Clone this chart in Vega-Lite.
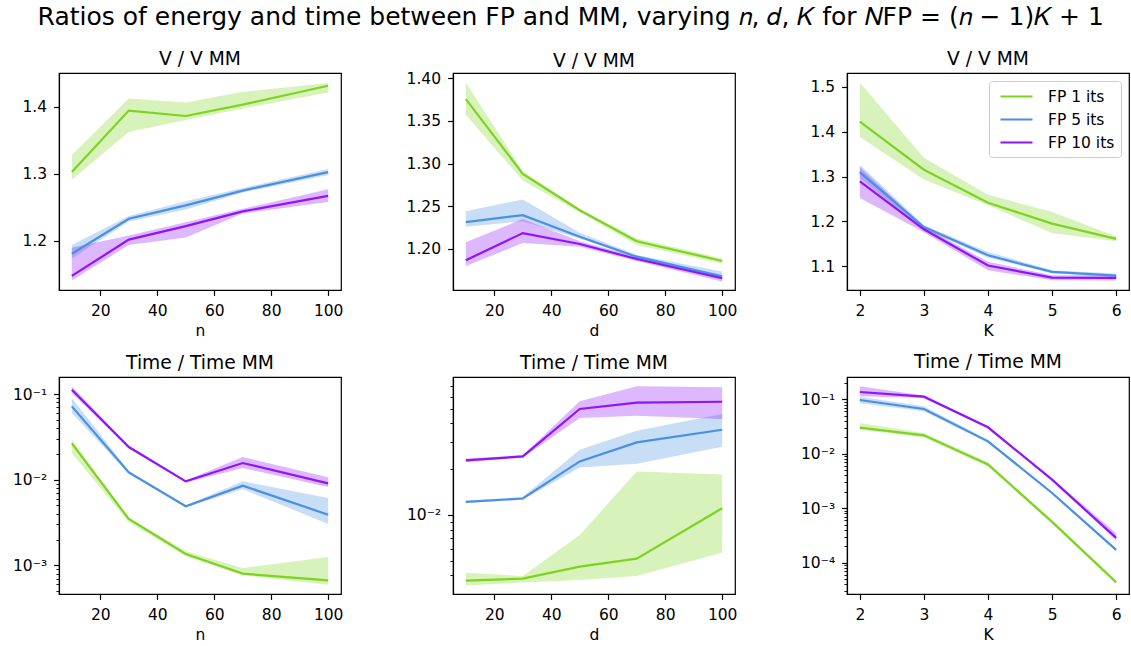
{
  "$schema": "https://vega.github.io/schema/vega-lite/v6.json",
  "padding": {"left": 11, "top": 4, "right": 0, "bottom": 0},
  "title": {"text": "Ratios of energy and time between FP and MM, varying 𝑛, 𝑑, 𝐾 for 𝑁FP = (𝑛 − 1)𝐾 + 1", "fontSize": 25, "fontWeight": "normal", "anchor": "middle", "offset": 20},
  "config": {
    "font": "DejaVu Sans",
    "view": {"stroke": "black", "strokeWidth": 1.2},
    "title": {"fontSize": 18.7, "fontWeight": "normal", "color": "black", "offset": 4},
    "axis": {"domainColor": "black", "domainWidth": 1.2, "tickColor": "black", "tickWidth": 1.2, "tickSize": 5.4, "labelFontSize": 15.5, "labelColor": "black", "titleFontSize": 15.5, "titleFontWeight": "normal", "titleColor": "black", "grid": false, "labelOverlap": false, "labelFlush": false},
    "axisX": {"labelPadding": 8.5, "titlePadding": 4.5},
    "axisY": {"labelPadding": 7},
    "legend": {"orient": "top-right", "offset": 8, "padding": 6, "strokeColor": "#cccccc", "fillColor": "white", "cornerRadius": 3, "symbolType": "M-2,0L2,0", "symbolSize": 256, "symbolOffset": 12, "symbolStrokeWidth": 2.2, "labelFontSize": 15.5, "labelColor": "black", "labelOffset": 22, "rowPadding": 5}
  },
  "data": {"values": [
    {"p":"Vn","s":"FP 1 its","x":10,"m":1.3025,"lo":1.291,"hi":1.328},
    {"p":"Vn","s":"FP 1 its","x":30,"m":1.394,"lo":1.362,"hi":1.412},
    {"p":"Vn","s":"FP 1 its","x":50,"m":1.386,"lo":1.380,"hi":1.406},
    {"p":"Vn","s":"FP 1 its","x":70,"m":1.403,"lo":1.397,"hi":1.422},
    {"p":"Vn","s":"FP 1 its","x":100,"m":1.431,"lo":1.421,"hi":1.435},
    {"p":"Vn","s":"FP 5 its","x":10,"m":1.181,"lo":1.174,"hi":1.194},
    {"p":"Vn","s":"FP 5 its","x":30,"m":1.233,"lo":1.229,"hi":1.237},
    {"p":"Vn","s":"FP 5 its","x":50,"m":1.253,"lo":1.247,"hi":1.259},
    {"p":"Vn","s":"FP 5 its","x":70,"m":1.275,"lo":1.272,"hi":1.279},
    {"p":"Vn","s":"FP 5 its","x":100,"m":1.3025,"lo":1.298,"hi":1.307},
    {"p":"Vn","s":"FP 10 its","x":10,"m":1.148,"lo":1.141,"hi":1.190},
    {"p":"Vn","s":"FP 10 its","x":30,"m":1.202,"lo":1.194,"hi":1.208},
    {"p":"Vn","s":"FP 10 its","x":50,"m":1.222,"lo":1.205,"hi":1.228},
    {"p":"Vn","s":"FP 10 its","x":70,"m":1.244,"lo":1.241,"hi":1.248},
    {"p":"Vn","s":"FP 10 its","x":100,"m":1.267,"lo":1.258,"hi":1.277},
    {"p":"Vd","s":"FP 1 its","x":10,"m":1.3755,"lo":1.357,"hi":1.395},
    {"p":"Vd","s":"FP 1 its","x":30,"m":1.288,"lo":1.280,"hi":1.291},
    {"p":"Vd","s":"FP 1 its","x":50,"m":1.2454,"lo":1.243,"hi":1.247},
    {"p":"Vd","s":"FP 1 its","x":70,"m":1.209,"lo":1.2047,"hi":1.2124},
    {"p":"Vd","s":"FP 1 its","x":100,"m":1.186,"lo":1.183,"hi":1.189},
    {"p":"Vd","s":"FP 5 its","x":10,"m":1.2315,"lo":1.226,"hi":1.2443},
    {"p":"Vd","s":"FP 5 its","x":30,"m":1.2396,"lo":1.2326,"hi":1.258},
    {"p":"Vd","s":"FP 5 its","x":50,"m":1.2144,"lo":1.2124,"hi":1.219},
    {"p":"Vd","s":"FP 5 its","x":70,"m":1.191,"lo":1.189,"hi":1.193},
    {"p":"Vd","s":"FP 5 its","x":100,"m":1.168,"lo":1.165,"hi":1.1736},
    {"p":"Vd","s":"FP 10 its","x":10,"m":1.1868,"lo":1.180,"hi":1.2078},
    {"p":"Vd","s":"FP 10 its","x":30,"m":1.2186,"lo":1.207,"hi":1.235},
    {"p":"Vd","s":"FP 10 its","x":50,"m":1.2058,"lo":1.2027,"hi":1.209},
    {"p":"Vd","s":"FP 10 its","x":70,"m":1.1883,"lo":1.186,"hi":1.1907},
    {"p":"Vd","s":"FP 10 its","x":100,"m":1.1658,"lo":1.162,"hi":1.169},
    {"p":"VK","s":"FP 1 its","x":2,"m":1.4228,"lo":1.388,"hi":1.510},
    {"p":"VK","s":"FP 1 its","x":3,"m":1.3152,"lo":1.2937,"hi":1.342},
    {"p":"VK","s":"FP 1 its","x":4,"m":1.2417,"lo":1.2358,"hi":1.2596},
    {"p":"VK","s":"FP 1 its","x":5,"m":1.195,"lo":1.174,"hi":1.221},
    {"p":"VK","s":"FP 1 its","x":6,"m":1.161,"lo":1.1558,"hi":1.1668},
    {"p":"VK","s":"FP 5 its","x":2,"m":1.31,"lo":1.2967,"hi":1.3263},
    {"p":"VK","s":"FP 5 its","x":3,"m":1.1876,"lo":1.1824,"hi":1.1913},
    {"p":"VK","s":"FP 5 its","x":4,"m":1.1245,"lo":1.1193,"hi":1.132},
    {"p":"VK","s":"FP 5 its","x":5,"m":1.0874,"lo":1.0837,"hi":1.0911},
    {"p":"VK","s":"FP 5 its","x":6,"m":1.0792,"lo":1.0763,"hi":1.0837},
    {"p":"VK","s":"FP 10 its","x":2,"m":1.2892,"lo":1.2521,"hi":1.3212},
    {"p":"VK","s":"FP 10 its","x":3,"m":1.1824,"lo":1.1759,"hi":1.1876},
    {"p":"VK","s":"FP 10 its","x":4,"m":1.1015,"lo":1.091,"hi":1.1098},
    {"p":"VK","s":"FP 10 its","x":5,"m":1.0748,"lo":1.0689,"hi":1.08},
    {"p":"VK","s":"FP 10 its","x":6,"m":1.074,"lo":1.0682,"hi":1.08},
    {"p":"Tn","s":"FP 1 its","x":10,"m":0.02655,"lo":0.0205,"hi":0.0293},
    {"p":"Tn","s":"FP 1 its","x":30,"m":0.003475,"lo":0.00318,"hi":0.00363},
    {"p":"Tn","s":"FP 1 its","x":50,"m":0.001355,"lo":0.001273,"hi":0.001457},
    {"p":"Tn","s":"FP 1 its","x":70,"m":0.0008,"lo":0.000764,"hi":0.000931},
    {"p":"Tn","s":"FP 1 its","x":100,"m":0.000668,"lo":0.000595,"hi":0.00125},
    {"p":"Tn","s":"FP 5 its","x":10,"m":0.0718,"lo":0.06,"hi":0.0898},
    {"p":"Tn","s":"FP 5 its","x":30,"m":0.01218,"lo":0.0117,"hi":0.0127},
    {"p":"Tn","s":"FP 5 its","x":50,"m":0.00489,"lo":0.00475,"hi":0.0050},
    {"p":"Tn","s":"FP 5 its","x":70,"m":0.00851,"lo":0.00778,"hi":0.00956},
    {"p":"Tn","s":"FP 5 its","x":100,"m":0.0039,"lo":0.00304,"hi":0.0061},
    {"p":"Tn","s":"FP 10 its","x":10,"m":0.1124,"lo":0.1027,"hi":0.123},
    {"p":"Tn","s":"FP 10 its","x":30,"m":0.02406,"lo":0.0235,"hi":0.0247},
    {"p":"Tn","s":"FP 10 its","x":50,"m":0.00956,"lo":0.0093,"hi":0.0098},
    {"p":"Tn","s":"FP 10 its","x":70,"m":0.01565,"lo":0.01368,"hi":0.0184},
    {"p":"Tn","s":"FP 10 its","x":100,"m":0.00906,"lo":0.0082,"hi":0.01065},
    {"p":"Td","s":"FP 1 its","x":10,"m":0.0037,"lo":0.00343,"hi":0.00417},
    {"p":"Td","s":"FP 1 its","x":30,"m":0.00381,"lo":0.00359,"hi":0.00396},
    {"p":"Td","s":"FP 1 its","x":50,"m":0.00457,"lo":0.00373,"hi":0.00738},
    {"p":"Td","s":"FP 1 its","x":70,"m":0.00516,"lo":0.00396,"hi":0.0193},
    {"p":"Td","s":"FP 1 its","x":100,"m":0.01107,"lo":0.00565,"hi":0.01845},
    {"p":"Td","s":"FP 5 its","x":10,"m":0.01218,"lo":0.0120,"hi":0.0124},
    {"p":"Td","s":"FP 5 its","x":30,"m":0.01282,"lo":0.0126,"hi":0.0131},
    {"p":"Td","s":"FP 5 its","x":50,"m":0.02248,"lo":0.0205,"hi":0.0268},
    {"p":"Td","s":"FP 5 its","x":70,"m":0.030,"lo":0.0217,"hi":0.0357},
    {"p":"Td","s":"FP 5 its","x":100,"m":0.0363,"lo":0.0281,"hi":0.0461},
    {"p":"Td","s":"FP 10 its","x":10,"m":0.02283,"lo":0.0223,"hi":0.0235},
    {"p":"Td","s":"FP 10 its","x":30,"m":0.02425,"lo":0.0238,"hi":0.0247},
    {"p":"Td","s":"FP 10 its","x":50,"m":0.0497,"lo":0.0433,"hi":0.0559},
    {"p":"Td","s":"FP 10 its","x":70,"m":0.0547,"lo":0.0449,"hi":0.0701},
    {"p":"Td","s":"FP 10 its","x":100,"m":0.0555,"lo":0.0427,"hi":0.0691},
    {"p":"TK","s":"FP 1 its","x":2,"m":0.0302,"lo":0.0275,"hi":0.0367},
    {"p":"TK","s":"FP 1 its","x":3,"m":0.0218,"lo":0.0200,"hi":0.0240},
    {"p":"TK","s":"FP 1 its","x":4,"m":0.00633,"lo":0.0058,"hi":0.0070},
    {"p":"TK","s":"FP 1 its","x":5,"m":0.00056,"lo":0.00052,"hi":0.0006},
    {"p":"TK","s":"FP 1 its","x":6,"m":0.0000435,"lo":0.000040,"hi":0.000047},
    {"p":"TK","s":"FP 5 its","x":2,"m":0.0972,"lo":0.0845,"hi":0.1119},
    {"p":"TK","s":"FP 5 its","x":3,"m":0.0664,"lo":0.0602,"hi":0.0744},
    {"p":"TK","s":"FP 5 its","x":4,"m":0.01692,"lo":0.0160,"hi":0.0178},
    {"p":"TK","s":"FP 5 its","x":5,"m":0.0019,"lo":0.00182,"hi":0.00198},
    {"p":"TK","s":"FP 5 its","x":6,"m":0.000171,"lo":0.000163,"hi":0.000180},
    {"p":"TK","s":"FP 10 its","x":2,"m":0.1364,"lo":0.1135,"hi":0.173},
    {"p":"TK","s":"FP 10 its","x":3,"m":0.112,"lo":0.106,"hi":0.118},
    {"p":"TK","s":"FP 10 its","x":4,"m":0.0306,"lo":0.0294,"hi":0.0318},
    {"p":"TK","s":"FP 10 its","x":5,"m":0.00334,"lo":0.0032,"hi":0.0035},
    {"p":"TK","s":"FP 10 its","x":6,"m":0.000284,"lo":0.000257,"hi":0.00035}
  ]},
  "vconcat": [
    {
      "hconcat": [
        {
          "width": 282, "height": 217, "title": "V / V MM",
          "transform": [{"filter": "datum.p == 'Vn'"}],
          "encoding": {
            "x": {"field": "x", "type": "quantitative", "scale": {"domain": [5.5, 104.5], "nice": false, "zero": false}, "axis": {"values": [20, 40, 60, 80, 100], "title": "n"}},
            "y": {"field": "m", "type": "quantitative", "scale": {"domain": [1.127, 1.45], "nice": false, "zero": false}, "axis": {"values": [1.2, 1.3, 1.4], "format": ".1f", "title": null}}
          },
          "layer": [
            {"mark": {"type": "area", "opacity": 0.3}, "encoding": {"y": {"field": "lo", "type": "quantitative"}, "y2": {"field": "hi"}, "fill": {"field": "s", "type": "nominal", "scale": {"domain": ["FP 10 its", "FP 5 its", "FP 1 its"], "range": ["#9013FE", "#4A90E2", "#7ED321"]}, "legend": null}}},
            {"mark": {"type": "line", "strokeWidth": 2.2}, "encoding": {"color": {"field": "s", "type": "nominal", "scale": {"domain": ["FP 1 its", "FP 5 its", "FP 10 its"], "range": ["#7ED321", "#4A90E2", "#9013FE"]}, "legend": null}}}
          ]
        },
        {
          "width": 282, "height": 217, "title": {"text": "V / V MM", "offset": 0},
          "transform": [{"filter": "datum.p == 'Vd'"}],
          "encoding": {
            "x": {"field": "x", "type": "quantitative", "scale": {"domain": [5.5, 104.5], "nice": false, "zero": false}, "axis": {"values": [20, 40, 60, 80, 100], "title": "d"}},
            "y": {"field": "m", "type": "quantitative", "scale": {"domain": [1.152, 1.406], "nice": false, "zero": false}, "axis": {"values": [1.2, 1.25, 1.3, 1.35, 1.4], "format": ".2f", "title": null}}
          },
          "layer": [
            {"mark": {"type": "area", "opacity": 0.3}, "encoding": {"y": {"field": "lo", "type": "quantitative"}, "y2": {"field": "hi"}, "fill": {"field": "s", "type": "nominal", "scale": {"domain": ["FP 10 its", "FP 5 its", "FP 1 its"], "range": ["#9013FE", "#4A90E2", "#7ED321"]}, "legend": null}}},
            {"mark": {"type": "line", "strokeWidth": 2.2}, "encoding": {"color": {"field": "s", "type": "nominal", "scale": {"domain": ["FP 1 its", "FP 5 its", "FP 10 its"], "range": ["#7ED321", "#4A90E2", "#9013FE"]}, "legend": null}}}
          ]
        },
        {
          "width": 282, "height": 217, "title": "V / V MM",
          "transform": [{"filter": "datum.p == 'VK'"}],
          "encoding": {
            "x": {"field": "x", "type": "quantitative", "scale": {"domain": [1.8, 6.2], "nice": false, "zero": false}, "axis": {"values": [2, 3, 4, 5, 6], "title": "K"}},
            "y": {"field": "m", "type": "quantitative", "scale": {"domain": [1.047, 1.531], "nice": false, "zero": false}, "axis": {"values": [1.1, 1.2, 1.3, 1.4, 1.5], "format": ".1f", "title": null}}
          },
          "layer": [
            {"mark": {"type": "area", "opacity": 0.3}, "encoding": {"y": {"field": "lo", "type": "quantitative"}, "y2": {"field": "hi"}, "fill": {"field": "s", "type": "nominal", "scale": {"domain": ["FP 10 its", "FP 5 its", "FP 1 its"], "range": ["#9013FE", "#4A90E2", "#7ED321"]}, "legend": null}}},
            {"mark": {"type": "line", "strokeWidth": 2.2}, "encoding": {"color": {"field": "s", "type": "nominal", "scale": {"domain": ["FP 1 its", "FP 5 its", "FP 10 its"], "range": ["#7ED321", "#4A90E2", "#9013FE"]}, "legend": {"orient": "top-right", "title": null}}}}
          ]
        }
      ],
      "spacing": 112, "bounds": "flush",
      "resolve": {"scale": {"color": "independent", "fill": "independent"}, "legend": {"color": "independent"}}
    },
    {
      "hconcat": [
        {
          "width": 282, "height": 217, "title": "Time / Time MM",
          "transform": [{"filter": "datum.p == 'Tn'"}],
          "encoding": {
            "x": {"field": "x", "type": "quantitative", "scale": {"domain": [5.5, 104.5], "nice": false, "zero": false}, "axis": {"values": [20, 40, 60, 80, 100], "title": "n"}},
            "y": {"field": "m", "type": "quantitative", "scale": {"type": "log", "domain": [0.000463, 0.158], "nice": false}, "axis": {"title": null, "values": [0.0005,0.0006,0.0007,0.0008,0.0009,0.001,0.002,0.003,0.004,0.005,0.006,0.007,0.008,0.009,0.01,0.02,0.03,0.04,0.05,0.06,0.07,0.08,0.09,0.1], "labelExpr": "datum.value == 0.1 ? '10⁻¹' : datum.value == 0.01 ? '10⁻²' : datum.value == 0.001 ? '10⁻³' : datum.value == 0.0001 ? '10⁻⁴' : ''", "tickSize": {"condition": {"test": "datum.value == 0.1 || datum.value == 0.01 || datum.value == 0.001 || datum.value == 0.0001", "value": 5.4}, "value": 3.1}, "tickWidth": {"condition": {"test": "datum.value == 0.1 || datum.value == 0.01 || datum.value == 0.001 || datum.value == 0.0001", "value": 1.2}, "value": 0.9}}}
          },
          "layer": [
            {"mark": {"type": "area", "opacity": 0.3}, "encoding": {"y": {"field": "lo", "type": "quantitative"}, "y2": {"field": "hi"}, "fill": {"field": "s", "type": "nominal", "scale": {"domain": ["FP 10 its", "FP 5 its", "FP 1 its"], "range": ["#9013FE", "#4A90E2", "#7ED321"]}, "legend": null}}},
            {"mark": {"type": "line", "strokeWidth": 2.2}, "encoding": {"color": {"field": "s", "type": "nominal", "scale": {"domain": ["FP 1 its", "FP 5 its", "FP 10 its"], "range": ["#7ED321", "#4A90E2", "#9013FE"]}, "legend": null}}}
          ]
        },
        {
          "width": 282, "height": 217, "title": "Time / Time MM",
          "transform": [{"filter": "datum.p == 'Td'"}],
          "encoding": {
            "x": {"field": "x", "type": "quantitative", "scale": {"domain": [5.5, 104.5], "nice": false, "zero": false}, "axis": {"values": [20, 40, 60, 80, 100], "title": "d"}},
            "y": {"field": "m", "type": "quantitative", "scale": {"type": "log", "domain": [0.00302, 0.0807], "nice": false}, "axis": {"title": null, "values": [0.004,0.005,0.006,0.007,0.008,0.009,0.01,0.02,0.03,0.04,0.05,0.06,0.07], "labelExpr": "datum.value == 0.1 ? '10⁻¹' : datum.value == 0.01 ? '10⁻²' : datum.value == 0.001 ? '10⁻³' : datum.value == 0.0001 ? '10⁻⁴' : ''", "tickSize": {"condition": {"test": "datum.value == 0.1 || datum.value == 0.01 || datum.value == 0.001 || datum.value == 0.0001", "value": 5.4}, "value": 3.1}, "tickWidth": {"condition": {"test": "datum.value == 0.1 || datum.value == 0.01 || datum.value == 0.001 || datum.value == 0.0001", "value": 1.2}, "value": 0.9}}}
          },
          "layer": [
            {"mark": {"type": "area", "opacity": 0.3}, "encoding": {"y": {"field": "lo", "type": "quantitative"}, "y2": {"field": "hi"}, "fill": {"field": "s", "type": "nominal", "scale": {"domain": ["FP 10 its", "FP 5 its", "FP 1 its"], "range": ["#9013FE", "#4A90E2", "#7ED321"]}, "legend": null}}},
            {"mark": {"type": "line", "strokeWidth": 2.2}, "encoding": {"color": {"field": "s", "type": "nominal", "scale": {"domain": ["FP 1 its", "FP 5 its", "FP 10 its"], "range": ["#7ED321", "#4A90E2", "#9013FE"]}, "legend": null}}}
          ]
        },
        {
          "width": 282, "height": 217, "title": "Time / Time MM",
          "transform": [{"filter": "datum.p == 'TK'"}],
          "encoding": {
            "x": {"field": "x", "type": "quantitative", "scale": {"domain": [1.8, 6.2], "nice": false, "zero": false}, "axis": {"values": [2, 3, 4, 5, 6], "title": "K"}},
            "y": {"field": "m", "type": "quantitative", "scale": {"type": "log", "domain": [0.0000265, 0.257], "nice": false}, "axis": {"title": null, "values": [0.00003,0.00004,0.00005,0.00006,0.00007,0.00008,0.00009,0.0001,0.0002,0.0003,0.0004,0.0005,0.0006,0.0007,0.0008,0.0009,0.001,0.002,0.003,0.004,0.005,0.006,0.007,0.008,0.009,0.01,0.02,0.03,0.04,0.05,0.06,0.07,0.08,0.09,0.1,0.2], "labelExpr": "datum.value == 0.1 ? '10⁻¹' : datum.value == 0.01 ? '10⁻²' : datum.value == 0.001 ? '10⁻³' : datum.value == 0.0001 ? '10⁻⁴' : ''", "tickSize": {"condition": {"test": "datum.value == 0.1 || datum.value == 0.01 || datum.value == 0.001 || datum.value == 0.0001", "value": 5.4}, "value": 3.1}, "tickWidth": {"condition": {"test": "datum.value == 0.1 || datum.value == 0.01 || datum.value == 0.001 || datum.value == 0.0001", "value": 1.2}, "value": 0.9}}}
          },
          "layer": [
            {"mark": {"type": "area", "opacity": 0.3}, "encoding": {"y": {"field": "lo", "type": "quantitative"}, "y2": {"field": "hi"}, "fill": {"field": "s", "type": "nominal", "scale": {"domain": ["FP 10 its", "FP 5 its", "FP 1 its"], "range": ["#9013FE", "#4A90E2", "#7ED321"]}, "legend": null}}},
            {"mark": {"type": "line", "strokeWidth": 2.2}, "encoding": {"color": {"field": "s", "type": "nominal", "scale": {"domain": ["FP 1 its", "FP 5 its", "FP 10 its"], "range": ["#7ED321", "#4A90E2", "#9013FE"]}, "legend": null}}}
          ]
        }
      ],
      "spacing": 112, "bounds": "flush",
      "resolve": {"scale": {"color": "independent", "fill": "independent"}, "legend": {"color": "independent"}}
    }
  ],
  "spacing": 12, "bounds": "full",
  "resolve": {"scale": {"color": "independent", "fill": "independent"}, "legend": {"color": "independent"}}
}
